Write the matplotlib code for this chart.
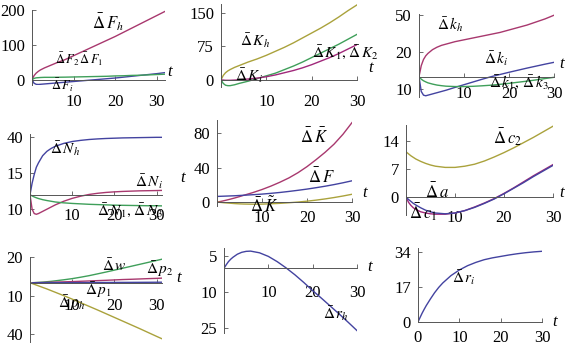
import matplotlib
matplotlib.use("Agg")
import matplotlib.pyplot as plt

plt.rcParams["font.family"] = "serif"
plt.rcParams["font.serif"] = ["Liberation Serif", "DejaVu Serif"]
plt.rcParams["mathtext.fontset"] = "stix"

NAVY = "#4343a0"
CRIMSON = "#a8386e"
GREEN = "#3f9f5a"
OLIVE = "#aaa23c"

# time grids
t32 = [0, 0.5, 1, 1.5, 2, 3, 4, 5, 6, 8, 10, 12, 14, 16, 18, 20, 22, 24, 26, 28, 30, 32]
t30 = [0, 0.5, 1, 1.5, 2, 3, 4, 5, 6, 8, 10, 12, 14, 16, 18, 20, 22, 24, 26, 28, 30]
t31 = [0, 0.5, 1, 1.5, 2, 3, 4, 5, 6, 8, 10, 12, 14, 16, 18, 20, 22, 24, 26, 28, 30, 31.3]

# panel 1: F
F_h = [0, 12, 19, 24, 28, 34, 39, 44, 49, 58, 69, 80, 91, 102, 113, 124, 136, 148, 160, 172, 184, 196]
F_i = [0, -10, -13, -13.5, -13, -12, -11, -10, -9, -7, -5, -3, -1, 1, 3, 5, 7.5, 10, 12.5, 15, 17.5, 20.5]
F_2 = [0, 4, 5.5, 6, 6.5, 7, 7, 7, 7.2, 7.5, 8, 8.5, 9, 9.5, 10, 11, 11.5, 12.5, 13, 14, 15, 16]

# panel 2: K
K_h = [0, 10, 16, 20, 23, 28, 32, 36, 40, 47, 55, 64, 73, 83, 94, 105, 116, 128, 141, 155, 168]
K_1 = [0, -8, -12, -13, -13, -11, -8, -5.5, -3, 3, 9, 15, 23, 31, 40, 50, 60, 70, 80, 91, 102]
K_2 = [0, -0.5, -1, -1, -1, -0.5, 0, 1, 2, 4, 7, 11, 16, 21, 27, 34, 42, 50, 59, 69, 79]

# panel 3: k
k_h = [0, 9, 14, 17, 19, 22, 24, 25.5, 26.5, 28.5, 30, 31.5, 33, 34.5, 36, 38, 40, 42, 44.5, 47, 50]
k_i = [0, -12, -15, -15.5, -15, -14, -13, -12, -11, -8.7, -6.5, -4.3, -2.1, 0, 1.8, 3.6, 5.3, 7, 8.6, 10.2, 11.7]
k_1 = [0, -2, -3.3, -4.2, -5, -6, -6.8, -7.3, -7.7, -8, -8, -7.8, -7.4, -6.9, -6.2, -5.4, -4.5, -3.6, -2.6, -1.5, -0.5]

# panel 4: N
N_h = [0, 8, 14, 19, 22, 27, 30, 32, 33.5, 35.5, 36.8, 37.6, 38.2, 38.6, 38.9, 39.1, 39.3, 39.4, 39.5, 39.6, 39.7, 39.7]
N_i = [0, -10, -13, -13.5, -13, -11.5, -10, -8.5, -7, -4.5, -2.5, -1, 0.2, 1, 1.6, 2, 2.3, 2.5, 2.7, 2.8, 2.9, 3]
N_1 = [0, -0.8, -1.5, -2.1, -2.6, -3.4, -4, -4.5, -5, -5.6, -6, -6.3, -6.6, -6.8, -7, -7.2, -7.3, -7.4, -7.5, -7.6, -7.6, -7.7]

# panel 5: Kbar, F, Ktilde
Kbar = [0, 0.4, 0.9, 1.5, 2.1, 3.4, 4.8, 6.3, 7.9, 11, 14.5, 18.5, 23, 28, 34, 41, 49, 57.5, 67, 78.5, 92]
F_tot = [6.5, 6.6, 6.7, 6.8, 6.9, 7.1, 7.3, 7.6, 7.9, 8.5, 9.2, 10.1, 11.1, 12.3, 13.6, 15, 16.6, 18.3, 20.2, 22.3, 24.6]
Ktil = [0, -0.3, -0.5, -0.8, -1, -1.4, -1.8, -2.1, -2.3, -2.5, -2.4, -2, -1.5, -0.8, 0, 1, 2.2, 3.6, 5.2, 7, 9]

# panel 6: c
c_2 = [11.3, 10.8, 10.3, 9.9, 9.5, 8.9, 8.4, 8, 7.7, 7.4, 7.4, 7.7, 8.2, 9, 10, 11.1, 12.3, 13.6, 14.9, 16.3, 17.7]
a_v = [0, -0.6, -1.1, -1.6, -2, -2.7, -3.3, -3.7, -4, -4.2, -4, -3.4, -2.6, -1.6, -0.5, 0.8, 2.2, 3.6, 5.1, 6.5, 7.9]
c_1 = [0, -1.3, -2.1, -2.7, -3.1, -3.7, -4, -4.2, -4.3, -4.3, -4, -3.4, -2.5, -1.5, -0.4, 0.9, 2.3, 3.8, 5.3, 6.7, 8.1]

# panel 7: w, p
w_v = [0, 0.05, 0.1, 0.2, 0.3, 0.5, 0.8, 1.1, 1.5, 2.3, 3.2, 4.3, 5.5, 6.9, 8.3, 9.8, 11.3, 12.8, 14.3, 15.8, 17.3, 18.3]
p_2 = [0, 0.03, 0.06, 0.1, 0.13, 0.2, 0.3, 0.4, 0.5, 0.7, 0.9, 1.15, 1.4, 1.65, 1.9, 2.2, 2.5, 2.7, 2.95, 3.2, 3.4, 3.6]
p_1 = [0, 0, 0.01, 0.01, 0.02, 0.03, 0.04, 0.05, 0.06, 0.08, 0.1, 0.12, 0.15, 0.18, 0.21, 0.24, 0.27, 0.3, 0.33, 0.36, 0.4, 0.42]
p_h = [0, -0.6, -1.2, -1.8, -2.4, -3.6, -4.8, -6.1, -7.4, -10, -12.7, -15.5, -18.3, -21.1, -24, -26.9, -29.8, -32.7, -35.6, -38.6, -41.6, -43.5]

# panel 8, 9: r
r_h = [0, 1.5, 2.8, 3.8, 4.6, 5.9, 6.7, 7.1, 7.2, 6.5, 5, 2.8, 0.2, -2.7, -5.9, -9.3, -12.5, -15.8, -19.1, -22.5, -26]
r_i = [0, 2.2, 4.3, 6.2, 8, 11.2, 14.2, 16.8, 19, 22.6, 25.3, 27.4, 29, 30.3, 31.2, 31.9, 32.6, 33.2, 33.7, 34.1, 34.4]

W, H = 565, 353
fig = plt.figure(figsize=(W / 100, H / 100), dpi=100)


def panel(l, t, r, b, xlim, ylim, yticks, ylabels, xticks=(10, 20, 30), xpad=9, tpos=(10, 8)):
    ax = fig.add_axes([l / W, 1 - b / H, (r - l) / W, (b - t) / H])
    ax.set_xlim(*xlim)
    ax.set_ylim(*ylim)
    for s in ("top", "right"):
        ax.spines[s].set_visible(False)
    for s in ("left", "bottom"):
        ax.spines[s].set_position(("data", 0))
        ax.spines[s].set_linewidth(0.7)
        ax.spines[s].set_color("#555555")
    ax.set_xticks(list(xticks))
    ax.set_yticks(yticks)
    ax.set_yticklabels(ylabels)
    ax.tick_params(direction="in", length=3, width=0.6, color="#555555", labelsize=12)
    ax.tick_params(axis="x", pad=xpad)
    ax.tick_params(axis="y", pad=5)
    ax.patch.set_alpha(0)
    ax.annotate("t", xy=(1, 0), xycoords=("axes fraction", "data"), xytext=tpos,
                textcoords="offset pixels", ha="center", va="center", style="italic", fontsize=12)
    return ax


def lab(ax, x, y, s, size=11):
    ax.text(x, y, s, fontsize=size, ha="left", va="center", clip_on=False)


lw = 1.0

# row 1
ax = panel(32, 10, 165, 85, (0, 32), (-15, 200), [0, 100, 200], ["0", "100", "200"], xpad=10, tpos=(5, 8))
ax.plot(t32, F_h, color=CRIMSON, lw=lw)
ax.plot(t32, F_i, color=NAVY, lw=lw)
ax.plot(t32, F_2, color=GREEN, lw=lw)
lab(ax, 14.5, 166, r"$\bar{\Delta}\,F_h$", 12)
lab(ax, 5.5, 57, r"$\bar{\Delta}\,F_2\,\bar{\Delta}\,F_1$", 9)
lab(ax, 4.5, -17, r"$\bar{\Delta}\,F_i$", 9)

ax = panel(221, 4, 357, 87, (0, 30), (-16, 170), [0, 75, 150], ["0", "75", "150"], xpad=10, tpos=(14, 12))
ax.plot(t30, K_h, color=OLIVE, lw=lw)
ax.plot(t30, K_1, color=GREEN, lw=lw)
ax.plot(t30, K_2, color="#a0287a", lw=lw)
lab(ax, 4.2, 89, r"$\bar{\Delta}\,K_h$")
lab(ax, 20, 63, r"$\bar{\Delta}\,K_1,\,\bar{\Delta}\,K_2$")
lab(ax, 3.1, 9, r"$\bar{\Delta}\,K_i$")

ax = panel(419, 14, 554, 97, (0, 30), (-16.5, 51), [-10, 20, 50], ["10", "20", "50"], xpad=7, tpos=(8, 13))
ax.plot(t30, k_h, color=CRIMSON, lw=lw)
ax.plot(t30, k_i, color=NAVY, lw=lw)
ax.plot(t30, k_1, color=GREEN, lw=lw)
lab(ax, 3.9, 42.7, r"$\bar{\Delta}\,k_h$")
lab(ax, 14.5, 15, r"$\bar{\Delta}\,k_i$")
lab(ax, 15.5, -4.3, r"$\bar{\Delta}\,k_1,\,\bar{\Delta}\,k_3$")

# row 2
ax = panel(30, 134, 162, 215, (0, 31.3), (-14, 42), [-10, 15, 40], ["10", "15", "40"], xpad=9.5, tpos=(21, 17))
ax.plot(t31, N_h, color=NAVY, lw=lw)
ax.plot(t31, N_i, color=CRIMSON, lw=lw)
ax.plot(t31, N_1, color=GREEN, lw=lw)
lab(ax, 4.7, 32, r"$\bar{\Delta}\,N_h$")
lab(ax, 25, 9, r"$\bar{\Delta}\,N_i$")
lab(ax, 15.8, -10.3, r"$\bar{\Delta}\,N_1,\,\bar{\Delta}\,N_3$")

ax = panel(217, 120, 352, 205.5, (0, 30), (-4, 95), [0, 40, 80], ["0", "40", "80"], xpad=6, tpos=(13, 9))
ax.plot(t30, Kbar, color=CRIMSON, lw=lw)
ax.plot(t30, F_tot, color=NAVY, lw=lw)
ax.plot(t30, Ktil, color=OLIVE, lw=lw)
lab(ax, 18.4, 75, r"$\bar{\Delta}\,\bar{K}$", 12)
lab(ax, 20.2, 28, r"$\bar{\Delta}\,F$", 12)
lab(ax, 7.3, -4.5, r"$\bar{\Delta}\,\tilde{K}$", 12)

ax = panel(406, 125, 553, 215, (0, 30), (-4.5, 18), [0, 7, 14], ["0", "7", "14"], xpad=9.5, tpos=(9, 4))
ax.plot(t30, c_2, color=OLIVE, lw=lw)
ax.plot(t30, c_1, color="#a0287a", lw=lw)
ax.plot(t30, a_v, color=NAVY, lw=lw)
lab(ax, 17.8, 15, r"$\bar{\Delta}\,c_2$", 12)
lab(ax, 3.9, 1.2, r"$\bar{\Delta}\,a$", 12)
lab(ax, 0.6, -3.8, r"$\bar{\Delta}\,c_1$", 12)

# row 3
ax = panel(30, 257, 162, 342, (0, 31.3), (-46, 19.5), [-40, -10, 20], ["40", "10", "20"], xpad=11, tpos=(17, 5))
ax.plot(t31, w_v, color=GREEN, lw=lw)
ax.plot(t31, p_2, color=CRIMSON, lw=lw)
ax.plot(t31, p_1, color=NAVY, lw=lw)
ax.plot(t31, p_h, color=OLIVE, lw=lw)
lab(ax, 17, 13, r"$\bar{\Delta}\,w$")
lab(ax, 27.5, 10.8, r"$\bar{\Delta}\,p_2$")
lab(ax, 13, -6, r"$\bar{\Delta}\,p_1$")
lab(ax, 6.6, -16, r"$\bar{\Delta}\,p_h$")

ax = panel(224, 248, 357, 333, (0, 30), (-27, 8.5), [-25, -10, 5], ["25", "10", "5"], xpad=12, tpos=(13, 1))
ax.plot(t30, r_h, color=NAVY, lw=lw)
lab(ax, 22.3, -19, r"$\bar{\Delta}\,r_h$")

ax = panel(418, 248, 542, 322, (0, 30), (0, 36), [0, 17, 34], ["0", "17", "34"], xticks=(0, 10, 20, 30), xpad=6, tpos=(13, 0))
ax.plot(t30, r_i, color=NAVY, lw=lw)
lab(ax, 8.2, 21.4, r"$\bar{\Delta}\,r_i$")

fig.savefig("out.png", dpi=100)
